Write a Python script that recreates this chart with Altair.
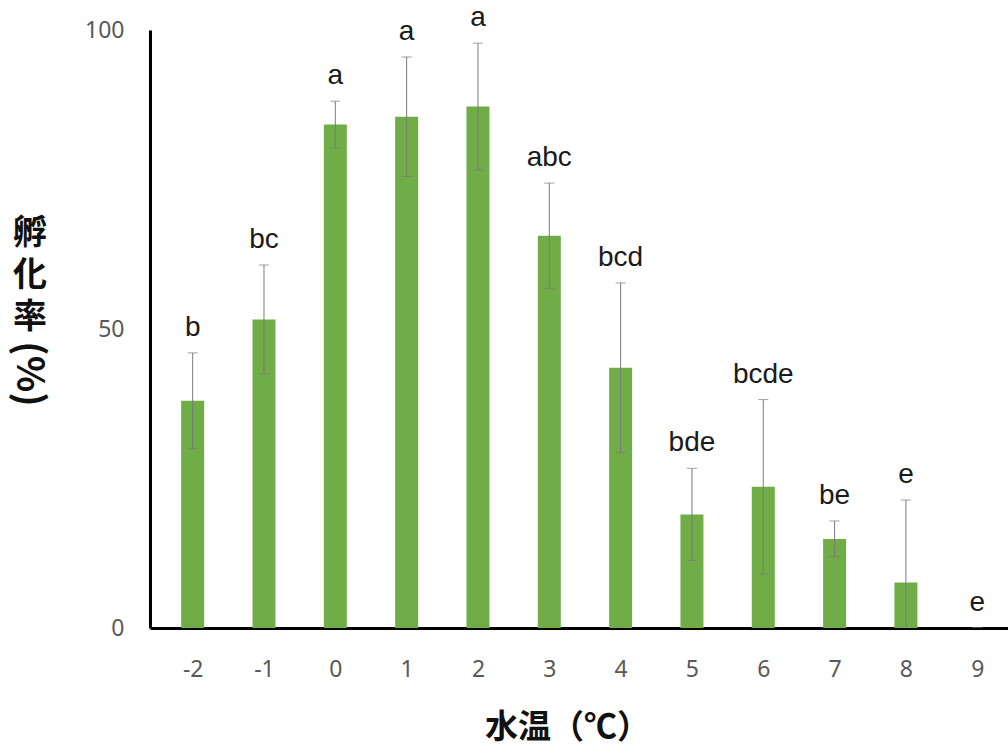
import altair as alt
import pandas as pd

# Water temperature (°C), hatching rate (%), standard deviation and significance groups
temps = [-2, -1, 0, 1, 2, 3, 4, 5, 6, 7, 8, 9]
hatch_rate = [38.0, 51.6, 84.2, 85.5, 87.2, 65.6, 43.5, 19.0, 23.6, 14.9, 7.6, 0.0]
std_dev = [8.0, 9.1, 3.9, 10.0, 10.6, 8.8, 14.2, 7.7, 14.6, 3.0, 13.8, 0.0]
groups = ["b", "bc", "a", "a", "a", "abc", "bcd", "bde", "bcde", "be", "e", "e"]
y_ticks = [0, 50, 100]
y_title_chars = ["孵", "化", "率"]

df = pd.DataFrame({"temp": temps, "rate": hatch_rate, "sd": std_dev, "grp": groups})
df["lo"] = df["rate"] - df["sd"]
df["hi"] = df["rate"] + df["sd"]

x_scale = alt.Scale(domain=[-2.528, 9.361], nice=False, zero=False)
y_scale = alt.Scale(domain=[0, 100], nice=False)

x_axis = alt.Axis(
    values=temps,
    labelExpr="'' + datum.value",
    labelPadding=30,
    title="水温（℃）",
    titleFont="Noto Sans CJK JP",
    titleFontSize=33,
    titleFontWeight="bold",
    titleColor="#111111",
    titleBaseline="middle",
    titleX=417,
    titleY=99,
)
y_axis = alt.Axis(values=y_ticks, labelPadding=26, title=None)


def xenc():
    return alt.X("temp:Q", scale=x_scale, axis=x_axis)


def yenc(field):
    return alt.Y(f"{field}:Q", scale=y_scale, axis=y_axis, title=None)


base = alt.Chart(df)

bars = base.mark_bar(size=23, color="#70AD47").encode(x=xenc(), y=yenc("rate"))

err_rule = base.mark_rule(color="#7a7a7a", strokeWidth=1, clip=True).encode(
    x=xenc(), y=yenc("lo"), y2="hi:Q"
)

err_top = base.mark_tick(
    orient="horizontal", size=10, thickness=1, color="#7a7a7a", clip=True
).encode(x=xenc(), y=yenc("hi"))

err_bottom = base.mark_tick(
    orient="horizontal", size=10, thickness=1, color="#7a7a7a", clip=True
).encode(x=xenc(), y=yenc("lo"))

letters = base.mark_text(
    baseline="alphabetic", dy=-17, fontSize=28, font="Liberation Sans", color="#1a1a1a"
).encode(x=xenc(), y=yenc("hi"), text="grp:N")

# Vertical y-axis title: upright kanji stacked one per line, then the rotated "(%)"
one_row = pd.DataFrame({"k": [0]})
title_layers = []
for i, ch in enumerate(y_title_chars):
    title_layers.append(
        alt.Chart(one_row)
        .mark_text(
            align="center",
            baseline="top",
            fontSize=34,
            font="Noto Sans CJK JP",
            fontWeight="bold",
            color="#111111",
        )
        .encode(x=alt.value(-120), y=alt.value(187 + 42 * i), text=alt.value(ch))
    )

y_title_unit = alt.Chart(one_row).mark_text(
    align="center",
    baseline="middle",
    angle=90,
    fontSize=38,
    font="Noto Sans CJK JP",
    fontWeight="bold",
    color="#111111",
).encode(
    x=alt.value(-122),
    y=alt.value(344),
    text=alt.value("(%)"),
)

chart = (
    alt.layer(bars, err_rule, err_top, err_bottom, letters, *title_layers, y_title_unit)
    .properties(
        width=858,
        height=598,
        padding={"left": 150, "top": 30, "right": 0, "bottom": 122},
        autosize=alt.AutoSizeParams(type="none"),
        background="white",
    )
    .configure_view(stroke=None)
    .configure_axis(
        grid=False,
        ticks=False,
        domainColor="#000000",
        domainWidth=3,
        labelColor="#595959",
        labelFont="Noto Sans",
        labelFontSize=23,
    )
)

chart.save("out.html", embed_options={"renderer": "svg", "actions": False})
